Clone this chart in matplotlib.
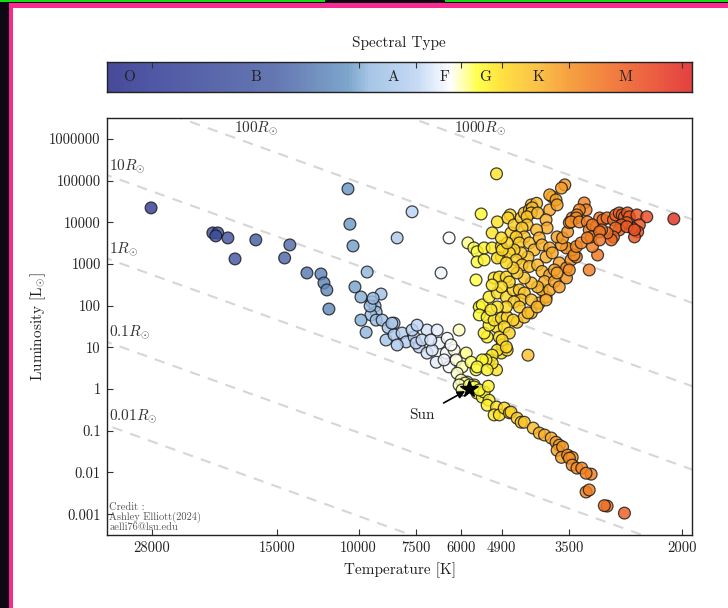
import numpy as np
import matplotlib
matplotlib.use('Agg')
import matplotlib.pyplot as plt
from matplotlib.colors import LinearSegmentedColormap, LogNorm
from matplotlib.patches import Rectangle
from matplotlib.ticker import FixedLocator, FixedFormatter, NullLocator

plt.rcParams['font.family'] = 'serif'
plt.rcParams['font.serif'] = ['cmr10']
plt.rcParams['mathtext.fontset'] = 'cm'
plt.rcParams['axes.unicode_minus'] = False
plt.rcParams['axes.formatter.use_mathtext'] = True

T_SUN = 5772
T_MIN, T_MAX = 1900, 35000
L_MIN, L_MAX = 10**-3.5, 10**6.5

# hot O/B/A stars, upper left
hot_temp = [28100, 20660, 20160, 20360, 19170, 18500, 16680, 14080, 14450, 12930,
            12060, 11880, 11710, 11590, 10540, 10440, 10280, 9580, 10180, 9880,
            8940, 8250, 7660, 6630, 6370]
hot_lum = [22100, 5550, 5550, 4700, 4210, 1320, 3770, 2860, 1390, 608,
           575, 350, 238, 83, 63100, 9000, 2700, 640, 281, 161,
           190, 4210, 17800, 608, 4210]

# main sequence, A/F down to the sun
ms_temp = [9350, 9210, 9160, 9400, 9880, 9630, 9160, 8890, 8630, 8380,
           8720, 8380, 8050, 7890, 7580, 7400, 7110, 7110, 6760, 6690,
           6430, 6790, 6460, 6210, 6370, 6060, 6150, 5850, 5970, 6120,
           5710, 5820, 5620, 5540, 5400, 6000, 5880, 6060, 5970, 8470,
           7660, 7510, 6930, 9440, 9300, 7290, 6980, 6530, 6310, 7470,
           8250, 5760, 5620, 5350]
ms_lum = [123, 98, 70, 60, 45, 23, 45, 45, 30, 38,
          15, 20, 22, 13.5, 17.7, 10.2, 26, 7.3, 26, 12.7,
          16.5, 4.4, 7.3, 8.6, 3.4, 26, 5.0, 7.3, 3.4, 2.4,
          4.4, 1.47, 1.25, 0.80, 0.64, 1.64, 1.39, 1.25, 0.95, 38,
          26, 12.7, 8.6, 98, 150, 15, 15, 5.0, 11.4, 34,
          11.4, 1.25, 1.12, 0.85]

# cool dwarfs below the sun
dwarf_temp = [5570, 5480, 5240, 5220, 5270, 5030, 5090, 4960, 4840, 4720,
              4680, 4540, 4450, 4380, 4190, 4065, 3960, 3830, 3740, 3680,
              3720, 3620, 3640, 3530, 3450, 3500, 3450, 3370, 3290, 3140,
              3220, 3220, 3170, 2900, 2940, 2660]
dwarf_lum = [2.9, 0.95, 1.17, 0.54, 0.41, 0.37, 0.24, 0.24, 0.35, 0.27,
             0.28, 0.20, 0.16, 0.16, 0.116, 0.088, 0.079, 0.067, 0.053, 0.045,
             0.034, 0.041, 0.023, 0.026, 0.023, 0.022, 0.015, 0.0127, 0.0127, 0.0091,
             0.0096, 0.0034, 0.0038, 0.00156, 0.0016, 0.00106]

# subgiant branch
sub_temp = [5220, 5030, 4910, 5030, 4960, 4890, 4770, 5010, 5140, 5140,
            5300, 5270, 5350, 5220, 5480, 5400, 5480, 5270, 5090, 4910,
            4770, 4540, 4380, 4230, 4065, 3930, 4010, 5220, 5010, 4790,
            4630, 4490, 4380, 4450, 4610, 4790, 5010, 5170, 5570, 5090,
            4960, 4790, 4720, 4910, 5140, 4630, 4840, 4720, 4890, 4790,
            4490, 4300, 4230, 4110, 5400, 5540, 5270, 4300]
sub_lum = [5.0, 2.9, 7.3, 31, 17.7, 11.4, 8.6, 8.6, 6.5, 4.2,
           5.0, 17.7, 22, 34, 93, 104, 60, 53, 45, 50,
           53, 40, 53, 67, 116, 161, 238, 161, 201, 161,
           238, 238, 201, 137, 123, 93, 93, 79, 413, 461,
           485, 485, 370, 281, 313, 45, 31, 22, 15, 10.2,
           93, 67, 137, 93, 5.0, 3.4, 2.9, 6.5]

# yellow giants
yellow_temp = [5800, 5630, 5540, 5540, 5350, 5350, 5140, 4910, 4910, 5010,
               5430, 5030, 5010, 5140]
yellow_lum = [3190, 2420, 1960, 1120, 1250, 2420, 2420, 1470, 2620, 1390,
              15800, 145000, 10200, 5550]

# K giant clump
clump_temp = [4700, 4750, 4680, 4610, 4450, 4380, 4230, 4270, 4120, 4210,
              4230, 4320, 4100, 3860, 3930, 3910, 4320, 4430, 4380, 4560,
              4490, 4270, 4170, 4300, 4450, 4610, 4720, 4560, 4430, 4270,
              4100, 4010, 3860, 3960, 4100, 4230, 4380, 4540, 4630, 4790,
              4890, 4770, 4910, 4120, 4065, 4010, 3860, 3930, 3810, 3680,
              3770, 3550, 3470, 3380, 3450, 3550, 3640, 3720, 3620, 3530,
              3860, 3930, 3770, 3680, 3550, 3720, 3500, 3420, 3380, 3300,
              3170, 3040, 3120]
clump_lum = [15000, 12700, 5550, 8630, 12700, 16700, 26100, 19800, 28500, 22100,
             16700, 13500, 16700, 19800, 11400, 7310, 8630, 7310, 4450, 4450,
             3190, 3190, 2170, 1470, 1840, 2170, 1840, 1250, 946, 870,
             946, 660, 545, 380, 281, 350, 461, 608, 802, 1060,
             2170, 3190, 4210, 6550, 4210, 2860, 2420, 1470, 1840, 1060,
             718, 802, 1250, 1470, 2170, 2420, 2860, 4450, 4210, 5900,
             238, 137, 380, 281, 461, 608, 718, 1640, 2620, 3190,
             718, 1640, 2620]

# bright orange giants
bright_temp = [3580, 3640, 3810, 3860, 3740, 3720, 3250, 3220, 3330, 3450,
               3370, 3500, 3380, 3470, 3330, 3200, 3170]
bright_lum = [78700, 66000, 40500, 45300, 34400, 26100, 29000, 19800, 19800, 12700,
              15000, 9800, 12700, 10200, 10200, 10200, 6550]

# M giants
red_temp = [3060, 3010, 2960, 2900, 2810, 2780, 2730, 2690, 2660, 2620,
            2595, 2500, 2380, 2470, 2490, 2530, 2560, 2630, 2700, 2730,
            2780, 2810, 2840, 2900, 2980, 3120, 3140, 3200, 3010, 3010,
            2630, 2530, 2080]
red_lum = [7840, 12700, 11400, 12700, 11400, 15000, 16700, 15000, 13500, 16700,
           13500, 15000, 13500, 8630, 5900, 4450, 7310, 9800, 8630, 6550,
           7310, 4450, 3770, 5550, 6550, 8630, 4450, 4210, 5900, 3770,
           7840, 6550, 12000]

# constant-radius lines, in solar radii
radii = [0.01, 0.1, 1, 10, 100, 1000]
radius_text = ['0.01', '0.1', '1', '10', '100', '1000']

spectral_classes = ['O', 'B', 'A', 'F', 'G', 'K', 'M']
spectral_bounds = [35000, 28000, 10000, 7500, 6000, 4900, 3500, 2000]
class_label_temp = [31300, 16700, 8420, 6530, 5320, 4080, 2650]

temp_ticks = [28000, 15000, 10000, 7500, 6000, 4900, 3500, 2000]
lum_ticks = [0.001, 0.01, 0.1, 1, 10, 100, 1000, 10000, 100000, 1000000]
lum_tick_text = ['0.001', '0.01', '0.1', '1', '10', '100', '1000', '10000', '100000', '1000000']

# colour scale, cool -> hot
cmap_temp = [1900, 2600, 3500, 4100, 4900, 5500, 6300, 7500, 9500, 10500, 15000, 28000, 35000]
cmap_hex = ['#e02222', '#ee5a22', '#f59222', '#fbb82a', '#ffdc22', '#ffff30', '#ffffff',
            '#bcd4f4', '#98bce2', '#6898c4', '#4c62a6', '#323c96', '#282c88']
cmap_pos = np.log10(np.array(cmap_temp) / T_MIN) / np.log10(T_MAX / T_MIN)
spec_cmap = LinearSegmentedColormap.from_list('spectral_type', list(zip(cmap_pos, cmap_hex)))
norm = LogNorm(vmin=T_MIN, vmax=T_MAX)

fig = plt.figure(figsize=(7.28, 6.08), dpi=100)

# dark border strips
fig.add_artist(Rectangle((0, 0), 9 / 728, 1, transform=fig.transFigure, color='#0d0814', lw=0))
fig.add_artist(Rectangle((0, 1 - 4 / 608), 1, 4 / 608, transform=fig.transFigure, color='#0d0814', lw=0))
fig.add_artist(Rectangle((0, 1 - 2 / 608), 325 / 728, 2 / 608, transform=fig.transFigure, color='#14dc14', lw=0))
fig.add_artist(Rectangle((445 / 728, 1 - 2 / 608), 1, 2 / 608, transform=fig.transFigure, color='#14dc14', lw=0))
fig.add_artist(Rectangle((9 / 728, 0), 3.5 / 728, 1 - 3.3 / 608, transform=fig.transFigure, color='#f72b8f', lw=0))
fig.add_artist(Rectangle((9 / 728, 1 - 7.5 / 608), 1, 4.2 / 608, transform=fig.transFigure, color='#f72b8f', lw=0))

# spectral type bar
ax_cb = fig.add_axes([107 / 728, 1 - 92 / 608, 585 / 728, 30 / 608])
edges = np.geomspace(T_MIN, T_MAX, 400)
mids = np.sqrt(edges[:-1] * edges[1:])
ax_cb.pcolormesh(edges, [0, 1], mids[None, :], cmap=spec_cmap, norm=norm, shading='flat', alpha=0.86)
ax_cb.set_xscale('log')
ax_cb.set_xlim(T_MAX, T_MIN)
ax_cb.set_ylim(0, 1)
ax_cb.xaxis.set_major_locator(FixedLocator(spectral_bounds[1:]))
ax_cb.xaxis.set_minor_locator(NullLocator())
ax_cb.set_yticks([])
ax_cb.tick_params(axis='x', top=True, bottom=False, direction='in', length=4,
                  labelbottom=False, labeltop=False, color='#333333')
for sp in ax_cb.spines.values():
    sp.set_color('#222222')
    sp.set_linewidth(1.0)
for name, t in zip(spectral_classes, class_label_temp):
    ax_cb.text(t, 0.5, name, ha='center', va='center', fontsize=11,
               color='#222222', transform=ax_cb.get_xaxis_transform())
fig.text(399 / 728, 1 - 43 / 608, 'Spectral Type', ha='center', va='center', fontsize=11, color='#222222')

# HR diagram
ax = fig.add_axes([107 / 728, 1 - 535 / 608, 585 / 728, 417 / 608])
ax.set_xscale('log')
ax.set_yscale('log')

line_temp = np.array([1500, 40000])
for r in radii:
    ax.plot(line_temp, r**2 * (line_temp / T_SUN)**4, ls=(0, (5, 4)), color='#d6d6d6', lw=1.5, zorder=1)

for r, txt in zip(radii, radius_text):
    lum_edge = r**2 * (34600 / T_SUN)**4
    if lum_edge > L_MAX:
        continue
    ax.text(34600, lum_edge * 1.08, r'$%sR_{\odot}$' % txt, ha='left', va='bottom', fontsize=11, color='#333333')
ax.text(16680, 1.84e6, r'$100R_{\odot}$', ha='center', va='center', fontsize=11, color='#333333')
ax.text(5456, 1.84e6, r'$1000R_{\odot}$', ha='center', va='center', fontsize=11, color='#333333')

groups = [(hot_temp, hot_lum), (ms_temp, ms_lum), (dwarf_temp, dwarf_lum),
          (sub_temp, sub_lum), (yellow_temp, yellow_lum), (clump_temp, clump_lum),
          (bright_temp, bright_lum), (red_temp, red_lum)]
temps = np.concatenate([np.array(t, dtype=float) for t, _ in groups])
lums = np.concatenate([np.array(l, dtype=float) for _, l in groups])
ax.scatter(temps, lums, c=temps, cmap=spec_cmap, norm=norm, s=72,
           edgecolors='#1a1a1a', linewidths=0.9, alpha=0.82, zorder=3)

ax.plot(T_SUN, 1, marker='*', color='k', ms=13, zorder=5)
ax.annotate('Sun', xy=(T_SUN, 1), xytext=(7290, 0.24), ha='center', va='center', fontsize=11,
            color='#222222', zorder=5,
            arrowprops=dict(arrowstyle='-|>', color='k', lw=1.2, shrinkA=5, shrinkB=3))

ax.text(0.004, 0.006, 'Credit :\nAshley Elliott(2024)\naelli76@lsu.edu', transform=ax.transAxes,
        ha='left', va='bottom', fontsize=7.5, color='#555555', linespacing=0.95)

ax.set_xlim(T_MAX, T_MIN)
ax.set_ylim(L_MIN, L_MAX)
ax.xaxis.set_major_locator(FixedLocator(temp_ticks))
ax.xaxis.set_major_formatter(FixedFormatter([str(t) for t in temp_ticks]))
ax.xaxis.set_minor_locator(NullLocator())
ax.yaxis.set_major_locator(FixedLocator(lum_ticks))
ax.yaxis.set_major_formatter(FixedFormatter(lum_tick_text))
ax.yaxis.set_minor_locator(NullLocator())
ax.tick_params(direction='in', length=4, labelsize=10.5, pad=4.5, color='#333333', labelcolor='#222222')
for sp in ax.spines.values():
    sp.set_color('#222222')
    sp.set_linewidth(1.0)

ax.set_xlabel('Temperature [K]', fontsize=11, color='#222222', labelpad=5)
ax.set_ylabel(r'Luminosity [L$_{\odot}$]', fontsize=11, color='#222222', labelpad=1)

fig.savefig('out.png', dpi=100)
